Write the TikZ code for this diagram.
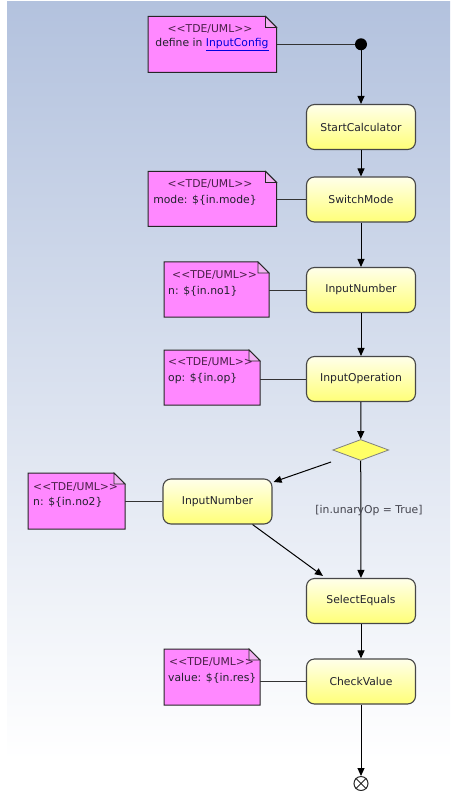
\documentclass[tikz,border=0pt]{standalone}
\usepackage{fontspec}
\setmainfont{DejaVu Sans}
\usetikzlibrary{arrows.meta,shapes.geometric}
\definecolor{bgtop}{HTML}{B3C2DE}
\definecolor{notefill}{HTML}{FF88FF}
\definecolor{foldfill}{HTML}{F2B2F2}
\definecolor{boxline}{HTML}{474747}
\definecolor{boxtop}{HTML}{FFFFEA}
\definecolor{boxbot}{HTML}{FFFF78}
\definecolor{decfill}{HTML}{FFFF66}
\definecolor{txt}{HTML}{22222E}
\definecolor{stereo}{HTML}{4A1F48}
\definecolor{linkblue}{HTML}{0000E0}
\newcommand\umlnote[1]{%
  \filldraw[notefill] (#1.south west) -- (#1.north west) -- ([xshift=-11pt]#1.north east)
    -- ([yshift=-11pt]#1.north east) -- (#1.south east) -- cycle;
  \filldraw[foldfill] ([xshift=-11pt]#1.north east) -- ([xshift=-11pt,yshift=-11pt]#1.north east)
    -- ([yshift=-11pt]#1.north east) -- cycle;}
\begin{document}
\begin{tikzpicture}[x=1pt,y=-1pt,
  font=\fontsize{10.8}{13}\selectfont,
  notebox/.style={inner sep=0pt,outer sep=0pt},
  notefill/.style={fill=notefill,draw=black!85,line width=1pt},
  foldfill/.style={fill=foldfill,draw=black!85,line width=0.8pt},
  notetxt/.style={inner sep=0pt,text height=8pt,text depth=2.5pt,text=txt},
  stereotxt/.style={notetxt,text=stereo},
  action/.style={rounded corners=8pt,draw=boxline,line width=1.1pt,top color=boxtop,bottom color=boxbot,
    minimum width=109pt,minimum height=45pt,inner sep=0pt,text=txt},
  flow/.style={draw=black,line width=1pt,-{Triangle[length=8pt,width=7pt]}},
  noteline/.style={draw=black!80,line width=1pt}]
\useasboundingbox (0,0) rectangle (450,791);
% background
\shade[top color=bgtop,bottom color=white] (7,2) rectangle (450,760);
\fill[white] (7,760) rectangle (450,791);

% notes
\node[notebox,minimum width=128.5pt,minimum height=56pt] (n1) at (212.3,44.5) {};
\node[notebox,minimum width=128.5pt,minimum height=55pt] (n2) at (212.3,199) {};
\node[notebox,minimum width=105pt,minimum height=55pt] (n3) at (216.5,289.5) {};
\node[notebox,minimum width=96pt,minimum height=55pt] (n4) at (212,377.5) {};
\node[notebox,minimum width=97pt,minimum height=56pt] (n5) at (76.5,501) {};
\node[notebox,minimum width=96pt,minimum height=56pt] (n6) at (212,677) {};
\umlnote{n1}\umlnote{n2}\umlnote{n3}\umlnote{n4}\umlnote{n5}\umlnote{n6}

\node[stereotxt] (t1a) at (210,30) {<{}<TDE/UML>{}>};
\node[notetxt] (t1b) at (212,44) {define in \textcolor{linkblue}{\underline{InputConfig}}};
\node[stereotxt] (t2a) at (210,185) {<{}<TDE/UML>{}>};
\node[notetxt] (t2b) at (205,201) {mode: \$\{in.mode\}};
\node[stereotxt,anchor=west] (t3a) at (172,276) {<{}<TDE/UML>{}>};
\node[notetxt,anchor=west] (t3b) at (168,292) {n: \$\{in.no1\}};
\node[stereotxt,anchor=west] (t4a) at (168,363) {<{}<TDE/UML>{}>};
\node[notetxt,anchor=west] (t4b) at (168,379) {op: \$\{in.op\}};
\node[stereotxt,anchor=west] (t5a) at (33,488) {<{}<TDE/UML>{}>};
\node[notetxt,anchor=west] (t5b) at (33,503) {n: \$\{in.no2\}};
\node[stereotxt,anchor=west] (t6a) at (169,663) {<{}<TDE/UML>{}>};
\node[notetxt,anchor=west] (t6b) at (168,679) {value: \$\{in.res\}};

% activity nodes
\node[circle,fill=black,minimum size=12pt,inner sep=0pt] (start) at (361,44.3) {};
\node[action] (sc) at (361,127) {StartCalculator};
\node[action] (sm) at (361,199.5) {SwitchMode};
\node[action] (in1) at (361,290) {InputNumber};
\node[action] (iop) at (361,379) {InputOperation};
\node[diamond,aspect=2.67,minimum width=56pt,minimum height=21pt,inner sep=0pt,
  fill=decfill,draw=black!50,line width=0.8pt] (dec) at (360.7,450) {};
\node[action] (in2) at (217.5,501.5) {InputNumber};
\node[action] (sel) at (361,601) {SelectEquals};
\node[action] (cv) at (361,681.5) {CheckValue};
\node[circle,draw=black!85,fill=white,line width=1pt,minimum size=14pt,inner sep=0pt] (fin) at (361,783.5) {};
\draw[black!85,line width=1pt] (fin.north west) -- (fin.south east) (fin.north east) -- (fin.south west);

% note connectors
\draw[noteline] (start) -- (start -| n1.east);
\draw[noteline] (sm.west) -- (sm.west -| n2.east);
\draw[noteline] (in1.west) -- (in1.west -| n3.east);
\draw[noteline] (iop.west) -- (iop.west -| n4.east);
\draw[noteline] (in2.west) -- (in2.west -| n5.east);
\draw[noteline] (cv.west) -- (cv.west -| n6.east);

% control flows
\draw[flow] (start) -- (sc);
\draw[flow] (sc) -- (sm);
\draw[flow] (sm) -- (in1);
\draw[flow] (in1) -- (iop);
\draw[flow] (iop) -- (dec);
\draw[flow] (dec) -- (sel);
\node[inner sep=0pt,text=txt!85] (guard) at (369,511) {[in.unaryOp = True]};
\coordinate (d1) at (331,462);
\draw[flow] (d1) -- ([xshift=1pt,yshift=-3.5pt]in2.north east);
\draw[flow] ([xshift=-20pt]in2.south east) -- ([xshift=17pt,yshift=2pt]sel.north west);
\draw[flow] (sel) -- (cv);
\draw[flow] (cv) -- (fin);
\end{tikzpicture}
\end{document}
